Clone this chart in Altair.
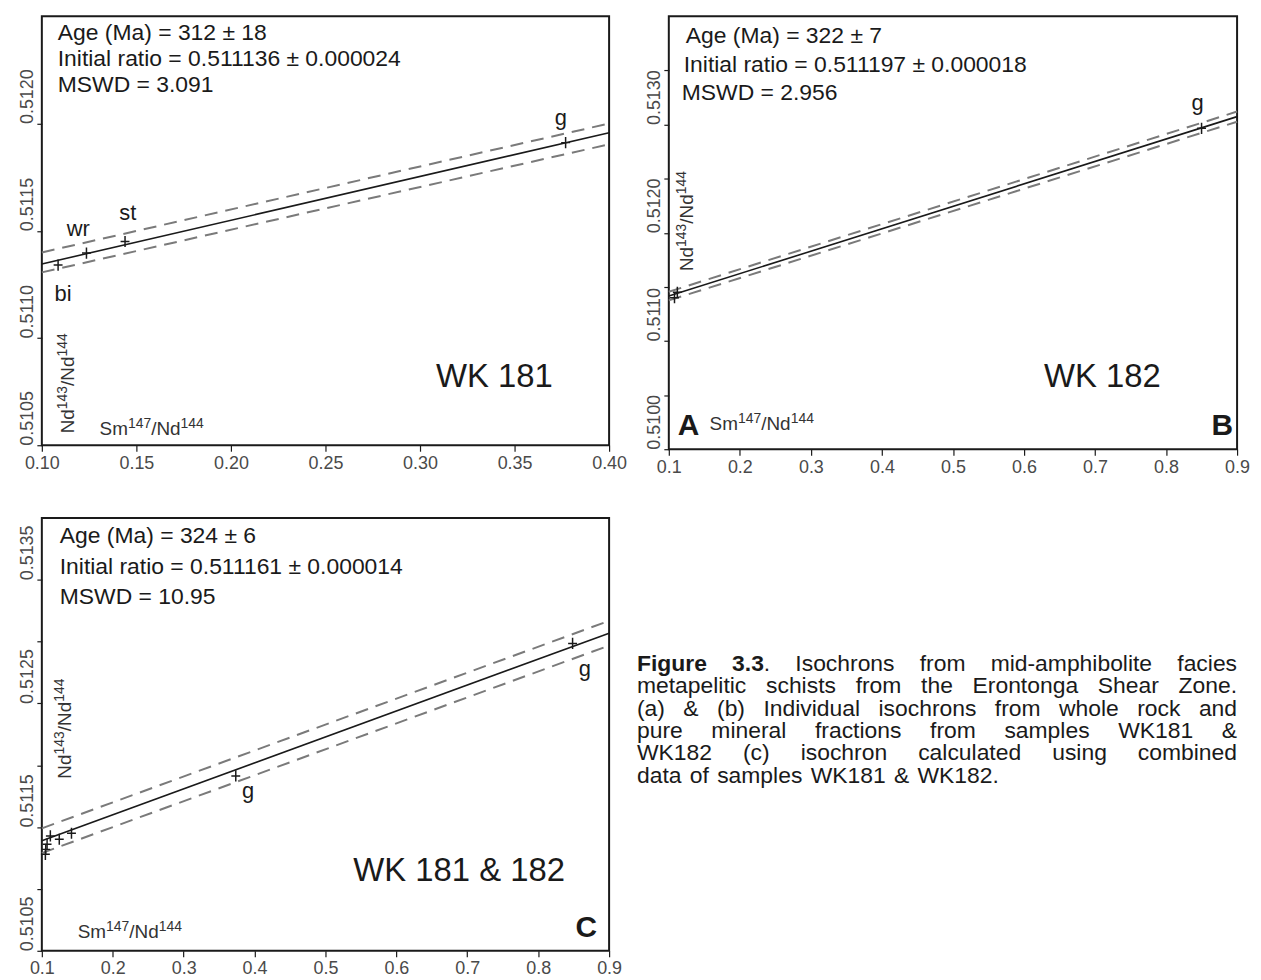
import altair as alt
import pandas as pd

FONT = "Liberation Sans"
INK = "#1a1a1a"
BAND = "#7a7a7a"
TICKLAB = "#4a4a4a"
SOFT = "#333333"

# ---------------- Panel A : WK 181 ----------------
A_sm = [0.1086, 0.1236, 0.1440, 0.3770]
A_nd = [0.511340, 0.511396, 0.511450, 0.511911]
A_lab_t = ["bi", "wr", "st", "g"]
A_lab_x = [0.1112, 0.1193, 0.1455, 0.3745]
A_lab_y = [0.511205, 0.511508, 0.511585, 0.512027]
A_line_x = [0.10, 0.40]
A_fit = [0.511345, 0.511957]
A_upper = [0.511399, 0.512000]
A_lower = [0.511306, 0.511903]
A_xdomain = [0.10, 0.40]
A_ydomain = [0.5105, 0.5125]
A_xticks = [0.10, 0.15, 0.20, 0.25, 0.30, 0.35, 0.40]
A_yticks = [0.5105, 0.5110, 0.5115, 0.5120]
A_stats = ["Age (Ma) = 312 ± 18", "Initial ratio = 0.511136 ± 0.000024", "MSWD =  3.091"]

# ---------------- Panel B : WK 182 ----------------
B_sm = [0.108, 0.112, 0.850]
B_nd = [0.511400, 0.511450, 0.512965]
B_lab_t = ["g"]
B_lab_x = [0.8445]
B_lab_y = [0.513197]
B_line_x = [0.10, 0.90]
B_fit = [0.511415, 0.513073]
B_upper = [0.511455, 0.513120]
B_lower = [0.511375, 0.513026]
B_xdomain = [0.10, 0.90]
B_ydomain = [0.5100, 0.5140]
B_xticks = [0.1, 0.2, 0.3, 0.4, 0.5, 0.6, 0.7, 0.8, 0.9]
B_yticks = [0.5100, 0.5105, 0.5110, 0.5115, 0.5120, 0.5125, 0.5130, 0.5135]
B_stats = ["Age (Ma) = 322  ± 7", "Initial ratio =  0.511197  ± 0.000018", "MSWD = 2.956"]

# ---------------- Panel C : WK 181 & 182 ----------------
C_sm = [0.1050, 0.1055, 0.1074, 0.1120, 0.1246, 0.1418, 0.3735, 0.8485]
C_nd = [0.511280, 0.511320, 0.511362, 0.511429, 0.511402, 0.511450, 0.511914, 0.512985]
C_lab_t = ["g", "g"]
C_lab_x = [0.3910, 0.8657]
C_lab_y = [0.511793, 0.512775]
C_line_x = [0.10, 0.90]
C_fit = [0.511390, 0.513068]
C_upper = [0.511490, 0.513168]
C_lower = [0.511290, 0.512968]
C_xdomain = [0.10, 0.90]
C_ydomain = [0.5105, 0.5140]
C_xticks = [0.1, 0.2, 0.3, 0.4, 0.5, 0.6, 0.7, 0.8, 0.9]
C_yticks = [0.5105, 0.5110, 0.5115, 0.5120, 0.5125, 0.5130, 0.5135]
C_stats = ["Age (Ma) = 324  ± 6", "Initial ratio = 0.511161  ± 0.000014", "MSWD =  10.95"]

# axis-title pieces: (text, is_superscript)
SM_LABEL = [("Sm", False), ("147", True), ("/Nd", False), ("144", True)]
ND_LABEL = [("Nd", False), ("143", True), ("/Nd", False), ("144", True)]

CAPTION = [
    "Figure 3.3. Isochrons from mid-amphibolite facies",
    "metapelitic schists from the Erontonga Shear Zone.",
    "(a) & (b) Individual isochrons from whole rock and",
    "pure mineral fractions from samples WK181 &",
    "WK182 (c) isochron calculated using combined",
    "data of samples WK181 & WK182.",
]

CROSS = "M-1,0L1,0M0,-1.25L0,1.25"
STAT_SIZE = 23
TICK_SIZE = 18

# Arial / Liberation Sans advance widths (per em) for text layout
W_REG = {" ": .278, ".": .278, "(": .333, ")": .333, "&": .667, "-": .333, "/": .278,
         "a": .556, "b": .556, "c": .5, "d": .556, "e": .556, "f": .278, "g": .556, "h": .556,
         "i": .222, "j": .222, "k": .5, "l": .222, "m": .833, "n": .556, "o": .556, "p": .556,
         "q": .556, "r": .333, "s": .5, "t": .278, "u": .556, "v": .5, "w": .722, "x": .5,
         "y": .5, "z": .5, "A": .667, "B": .667, "C": .722, "D": .722, "E": .667, "F": .611,
         "G": .778, "H": .722, "I": .278, "K": .667, "N": .722, "S": .667, "W": .944, "Z": .611,
         "M": .833}
W_BOLD = {"F": .611, "i": .278, "g": .611, "u": .611, "r": .389, "e": .556, ".": .278, " ": .278}


def text_width(s, size, bold=False):
    tbl = W_BOLD if bold else W_REG
    return sum((0.556 if ch.isdigit() else tbl.get(ch, 0.556)) for ch in s) * size


def note(txt, px, py, size=STAT_SIZE, align="left", baseline="middle", weight="normal", angle=0, color=INK):
    return alt.Chart(pd.DataFrame({"t": [txt]})).mark_text(
        align=align, baseline=baseline, fontSize=size, fontWeight=weight,
        angle=angle, font=FONT, color=color
    ).encode(x=alt.value(px), y=alt.value(py), text="t:N")


def sup_label(pieces, px, py, vertical=False, base=19, sup=14, raise_=7):
    out = []
    pos = 0.0
    for txt, is_sup in pieces:
        size = sup if is_sup else base
        lift = raise_ if is_sup else 0
        if vertical:
            out.append(note(txt, px - lift, py - pos, size=size, angle=270,
                            baseline="alphabetic", color=SOFT))
        else:
            out.append(note(txt, px + pos, py - lift, size=size,
                            baseline="alphabetic", color=SOFT))
        pos += text_width(txt, size)
    return out


def panel(line_x, fit, upper, lower, sm, nd, lab_t, lab_x, lab_y,
          xdom, ydom, xticks, yticks, xfmt, ylabexpr, w, h, extras):
    xs = alt.Scale(domain=xdom, nice=False, zero=False)
    ys = alt.Scale(domain=ydom, nice=False, zero=False)
    xaxis = alt.Axis(values=xticks, format=xfmt, title=None, grid=False, domain=False,
                     tickSize=6, tickColor=INK, tickWidth=1.2, labelFontSize=TICK_SIZE,
                     labelColor=TICKLAB, labelPadding=3, labelFlush=False, labelOverlap=False)
    yaxis = alt.Axis(values=yticks, labelExpr=ylabexpr, title=None, grid=False, domain=False,
                     tickSize=5, tickColor=INK, tickWidth=1.2, labelFontSize=TICK_SIZE,
                     labelColor=TICKLAB, labelAngle=270, labelAlign="left",
                     labelBaseline="alphabetic", labelPadding=4, labelFlush=False,
                     labelOverlap=False)
    band_df = pd.DataFrame({
        "x": line_x + line_x,
        "y": upper + lower,
        "k": ["up"] * len(line_x) + ["lo"] * len(line_x),
    })
    fit_df = pd.DataFrame({"x": line_x, "y": fit})
    pts_df = pd.DataFrame({"x": sm, "y": nd})
    lab_df = pd.DataFrame({"x": lab_x, "y": lab_y, "t": lab_t})

    band = alt.Chart(band_df).mark_line(color=BAND, strokeWidth=2, strokeDash=[13, 8]).encode(
        x=alt.X("x:Q", scale=xs, axis=xaxis),
        y=alt.Y("y:Q", scale=ys, axis=yaxis),
        detail="k:N",
    )
    fitl = alt.Chart(fit_df).mark_line(color=INK, strokeWidth=1.6).encode(x="x:Q", y="y:Q")
    pts = alt.Chart(pts_df).mark_point(shape=CROSS, size=80, filled=False, color=INK,
                                       strokeWidth=1.5, opacity=1).encode(x="x:Q", y="y:Q")
    labs = alt.Chart(lab_df).mark_text(fontSize=22, font=FONT, color=INK).encode(
        x="x:Q", y="y:Q", text="t:N")
    return alt.layer(band, fitl, pts, labs, *extras).properties(
        width=w, height=h, view=alt.ViewBackground(stroke=INK, strokeWidth=2))


def stats(lines, xs_, ys_):
    return [note(t, x, y) for t, x, y in zip(lines, xs_, ys_)]


A = panel(A_line_x, A_fit, A_upper, A_lower, A_sm, A_nd, A_lab_t, A_lab_x, A_lab_y,
          A_xdomain, A_ydomain, A_xticks, A_yticks, ".2f", "format(datum.value, '.4f')", 570, 431,
          stats(A_stats, [16, 16, 16], [17, 43, 69]) + [note("WK 181", 396, 362, size=33)]
          + sup_label(SM_LABEL, 58, 421)
          + sup_label(ND_LABEL, 32, 419, vertical=True))

B = panel(B_line_x, B_fit, B_upper, B_lower, B_sm, B_nd, B_lab_t, B_lab_x, B_lab_y,
          B_xdomain, B_ydomain, B_xticks, B_yticks, ".1f",
          "round(datum.value*10000) % 10 == 0 ? format(datum.value, '.4f') : ''", 571, 435,
          stats(B_stats, [17, 15, 13], [20, 49, 77]) + [
              note("WK 182", 377, 362, size=33),
              note("A", 9, 421, size=30, weight="bold", baseline="alphabetic"),
              note("B", 567, 421, size=30, weight="bold", align="right", baseline="alphabetic"),
          ]
          + sup_label(SM_LABEL, 41, 416)
          + sup_label(ND_LABEL, 24, 256, vertical=True))

C = panel(C_line_x, C_fit, C_upper, C_lower, C_sm, C_nd, C_lab_t, C_lab_x, C_lab_y,
          C_xdomain, C_ydomain, C_xticks, C_yticks, ".1f",
          "round(datum.value*10000) % 10 == 5 ? format(datum.value, '.4f') : ''", 570, 435,
          stats(C_stats, [18, 18, 18], [18, 49, 80]) + [
              note("WK 181 & 182", 313, 355, size=33),
              note("C", 558, 421, size=30, weight="bold", align="right", baseline="alphabetic"),
          ]
          + sup_label(SM_LABEL, 36, 422)
          + sup_label(ND_LABEL, 29, 262, vertical=True))

# ---------------- caption (justified, like the printed figure) ----------------
CAP_SIZE = 23
CAP_X = -32
CAP_W = 603
CAP_Y0 = 147
CAP_DY = 22.4
rows = []
for i, line in enumerate(CAPTION):
    words = line.split(" ")
    runs = []
    for j, wd in enumerate(words):
        if i == 0 and j == 0:
            runs.append([(wd, True)])
        elif i == 0 and j == 1:
            runs.append([(wd[:-1], True), (wd[-1], False)])
        else:
            runs.append([(wd, False)])
    widths = [sum(text_width(t, CAP_SIZE, b) for t, b in r) for r in runs]
    if i < len(CAPTION) - 1 and len(words) > 1:
        gap = (CAP_W - sum(widths)) / (len(words) - 1)
    else:
        gap = text_width(" ", CAP_SIZE) * 1.3
    x = CAP_X
    for r, wdt in zip(runs, widths):
        xx = x
        for t, b in r:
            rows.append({"t": t, "px": xx, "py": CAP_Y0 + i * CAP_DY, "bold": b})
            xx += text_width(t, CAP_SIZE, b)
        x += wdt + gap
cap_df = pd.DataFrame(rows)

cap_reg = alt.Chart(cap_df[~cap_df["bold"]]).mark_text(
    align="left", baseline="middle", fontSize=CAP_SIZE, font=FONT, color=INK
).encode(x=alt.X("px:Q", scale=None, axis=None), y=alt.Y("py:Q", scale=None, axis=None), text="t:N")
cap_bold = alt.Chart(cap_df[cap_df["bold"]]).mark_text(
    align="left", baseline="middle", fontSize=CAP_SIZE, font=FONT, color=INK, fontWeight="bold"
).encode(x=alt.X("px:Q", scale=None, axis=None), y=alt.Y("py:Q", scale=None, axis=None), text="t:N")

Cap = alt.layer(cap_bold, cap_reg).properties(
    width=571, height=435, view=alt.ViewBackground(stroke="transparent"))

chart = alt.concat(
    A, B, C, Cap, columns=2,
    spacing={"row": 69, "column": 60}, bounds="flush",
).properties(
    padding={"left": 9, "top": 5, "right": 2, "bottom": 0},
    background="white",
).configure_axis(labelFont=FONT).configure_text(font=FONT)

chart.save("out.html", embed_options={"renderer": "svg", "actions": False})
